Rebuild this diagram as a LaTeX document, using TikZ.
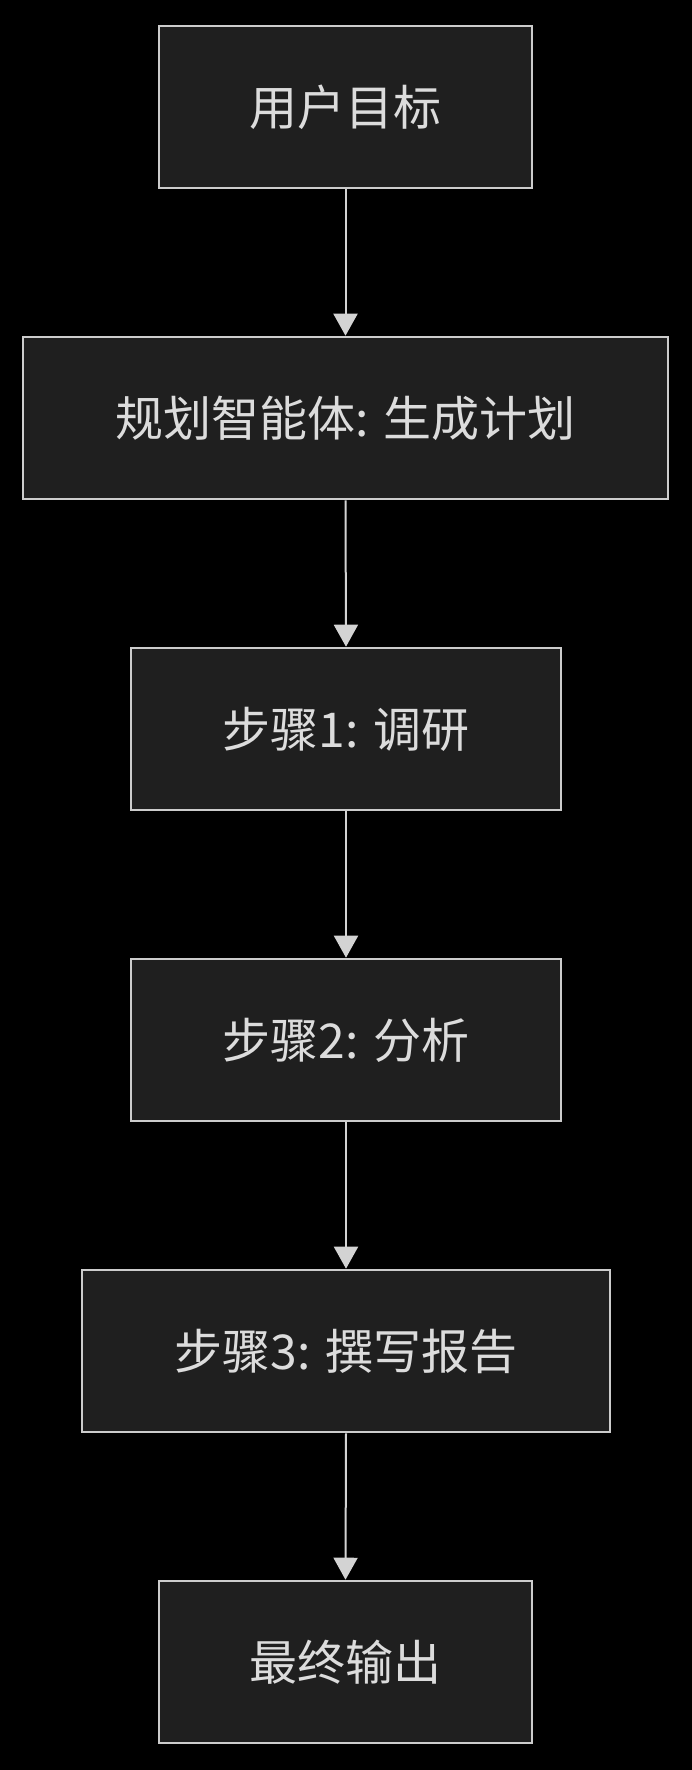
\documentclass[tikz,border=0pt]{standalone}
\usepackage{fontspec}
\newfontfamily\cjk{Noto Sans CJK SC}
\usetikzlibrary{arrows.meta}
\definecolor{bgc}{HTML}{000000}
\definecolor{boxfill}{HTML}{1F1F1F}
\definecolor{boxline}{HTML}{CCCCCC}
\definecolor{txt}{HTML}{DCDCDC}
\definecolor{arr}{HTML}{D3D3D3}
\begin{document}
\begin{tikzpicture}[x=1pt,y=1pt,
  flowbox/.style={draw=boxline, line width=2.6pt, fill=boxfill, text=txt,
    font=\cjk\fontsize{48}{56}\selectfont, minimum height=162pt, inner sep=0pt, anchor=center},
  flowarrow/.style={draw=arr, line width=2pt, -{Triangle[width=24pt,length=22pt]}, arr}]
\fill[bgc] (0,0) rectangle (692,-1770);
\useasboundingbox (0,0) rectangle (692,-1770);
\node[flowbox, minimum width=373pt] (n1) at (345.5,-107) {用户目标};
\node[flowbox, minimum width=645pt] (n2) at (345.5,-418) {规划智能体: 生成计划};
\node[flowbox, minimum width=430pt] (n3) at (346,-729) {步骤1: 调研};
\node[flowbox, minimum width=430pt] (n4) at (346,-1040) {步骤2: 分析};
\node[flowbox, minimum width=528pt] (n5) at (346,-1351) {步骤3: 撰写报告};
\node[flowbox, minimum width=373pt] (n6) at (345.5,-1662) {最终输出};
\draw[flowarrow] (n1.south) -- (n2.north);
\draw[flowarrow] (n2.south) -- (n3.north);
\draw[flowarrow] (n3.south) -- (n4.north);
\draw[flowarrow] (n4.south) -- (n5.north);
\draw[flowarrow] (n5.south) -- (n6.north);
\end{tikzpicture}
\end{document}
